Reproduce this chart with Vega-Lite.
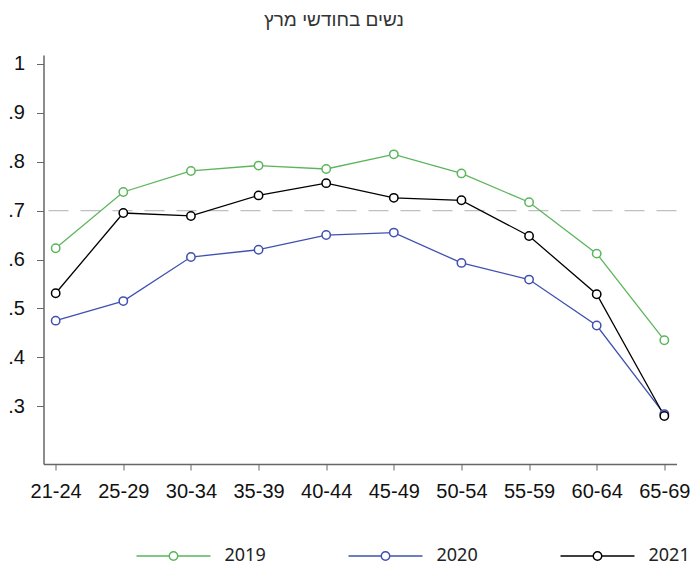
{
  "$schema": "https://vega.github.io/schema/vega-lite/v6.json",
  "autosize": "none",
  "width": 633,
  "height": 409,
  "padding": {"left": 43.5, "top": 55, "right": 18.5, "bottom": 104},
  "background": "white",
  "config": {"view": {"stroke": null}},
  "title": {
    "text": "נשים בחודשי מרץ",
    "font": "Liberation Sans",
    "fontSize": 19,
    "fontWeight": "normal",
    "letterSpacing": 1,
    "color": "#333333",
    "anchor": "middle",
    "frame": "group",
    "dx": -26,
    "offset": 24
  },
  "data": {
    "values": [
      {"age": "21-24", "year": "2019", "rate": 0.623},
      {"age": "25-29", "year": "2019", "rate": 0.738},
      {"age": "30-34", "year": "2019", "rate": 0.781},
      {"age": "35-39", "year": "2019", "rate": 0.792},
      {"age": "40-44", "year": "2019", "rate": 0.785},
      {"age": "45-49", "year": "2019", "rate": 0.815},
      {"age": "50-54", "year": "2019", "rate": 0.776},
      {"age": "55-59", "year": "2019", "rate": 0.717},
      {"age": "60-64", "year": "2019", "rate": 0.612},
      {"age": "65-69", "year": "2019", "rate": 0.435},
      {"age": "21-24", "year": "2020", "rate": 0.475},
      {"age": "25-29", "year": "2020", "rate": 0.515},
      {"age": "30-34", "year": "2020", "rate": 0.605},
      {"age": "35-39", "year": "2020", "rate": 0.620},
      {"age": "40-44", "year": "2020", "rate": 0.650},
      {"age": "45-49", "year": "2020", "rate": 0.655},
      {"age": "50-54", "year": "2020", "rate": 0.593},
      {"age": "55-59", "year": "2020", "rate": 0.559},
      {"age": "60-64", "year": "2020", "rate": 0.465},
      {"age": "65-69", "year": "2020", "rate": 0.284},
      {"age": "21-24", "year": "2021", "rate": 0.531},
      {"age": "25-29", "year": "2021", "rate": 0.695},
      {"age": "30-34", "year": "2021", "rate": 0.689},
      {"age": "35-39", "year": "2021", "rate": 0.731},
      {"age": "40-44", "year": "2021", "rate": 0.756},
      {"age": "45-49", "year": "2021", "rate": 0.726},
      {"age": "50-54", "year": "2021", "rate": 0.721},
      {"age": "55-59", "year": "2021", "rate": 0.648},
      {"age": "60-64", "year": "2021", "rate": 0.529},
      {"age": "65-69", "year": "2021", "rate": 0.280}
    ]
  },
  "encoding": {
    "x": {
      "field": "age",
      "type": "ordinal",
      "scale": {"type": "point", "padding": 0.18},
      "axis": {
        "title": null,
        "labelAngle": 0,
        "labelFont": "Liberation Sans",
        "labelFontSize": 20,
        "labelColor": "#111111",
        "labelPadding": 11,
        "tickSize": 6,
        "tickColor": "#666666",
        "domainColor": "#666666",
        "domainWidth": 1.5,
        "grid": false
      }
    },
    "y": {
      "field": "rate",
      "type": "quantitative",
      "scale": {"domain": [0.182, 1.018], "nice": false, "zero": false},
      "axis": {
        "title": null,
        "values": [0.3, 0.4, 0.5, 0.6, 0.7, 0.8, 0.9, 1],
        "labelExpr": "datum.value >= 1 ? '1' : replace(format(datum.value, '.1f'), '0.', '.')",
        "labelFont": "Liberation Sans",
        "labelFontSize": 20,
        "labelColor": "#111111",
        "labelPadding": 12,
        "tickSize": 7,
        "tickColor": "#666666",
        "domainColor": "#666666",
        "domainWidth": 1.5,
        "grid": false
      }
    }
  },
  "layer": [
    {
      "mark": {"type": "rule", "color": "#c0c0c0", "strokeWidth": 1.3, "strokeDash": [20, 12]},
      "data": {"values": [{"ref": 0.7}]},
      "encoding": {"y": {"field": "ref", "type": "quantitative"}, "x": null}
    },
    {
      "mark": {"type": "line", "strokeWidth": 1.3},
      "encoding": {
        "color": {
          "field": "year",
          "type": "nominal",
          "scale": {"domain": ["2019", "2020", "2021"], "range": ["#5cb55c", "#3f51b0", "#000000"]},
          "legend": {
            "title": null,
            "orient": "none",
            "direction": "horizontal",
            "legendX": 92,
            "legendY": 463,
            "padding": 0,
            "symbolType": "M-1,0L-0.115,0M0.115,0L1,0M-0.115,0A0.115,0.115 0 1 0 0.115,0A0.115,0.115 0 1 0 -0.115,0",
            "symbolSize": 5476,
            "symbolStrokeWidth": 1.4,
            "symbolFillColor": "white",
            "symbolOpacity": 1,
            "labelFont": "Noto Sans",
            "labelFontSize": 18,
            "labelColor": "#222222",
            "labelOffset": 13,
            "columnPadding": 79
          }
        }
      }
    },
    {
      "mark": {"type": "point", "filled": false, "fill": "white", "fillOpacity": 1, "size": 70, "strokeWidth": 1.5, "opacity": 1},
      "encoding": {
        "color": {
          "field": "year",
          "type": "nominal",
          "scale": {"domain": ["2019", "2020", "2021"], "range": ["#5cb55c", "#3f51b0", "#000000"]},
          "legend": {
            "title": null,
            "orient": "none",
            "direction": "horizontal",
            "legendX": 92,
            "legendY": 463,
            "padding": 0,
            "symbolType": "M-1,0L-0.115,0M0.115,0L1,0M-0.115,0A0.115,0.115 0 1 0 0.115,0A0.115,0.115 0 1 0 -0.115,0",
            "symbolSize": 5476,
            "symbolStrokeWidth": 1.4,
            "symbolFillColor": "white",
            "symbolOpacity": 1,
            "labelFont": "Noto Sans",
            "labelFontSize": 18,
            "labelColor": "#222222",
            "labelOffset": 13,
            "columnPadding": 79
          }
        }
      }
    }
  ]
}
